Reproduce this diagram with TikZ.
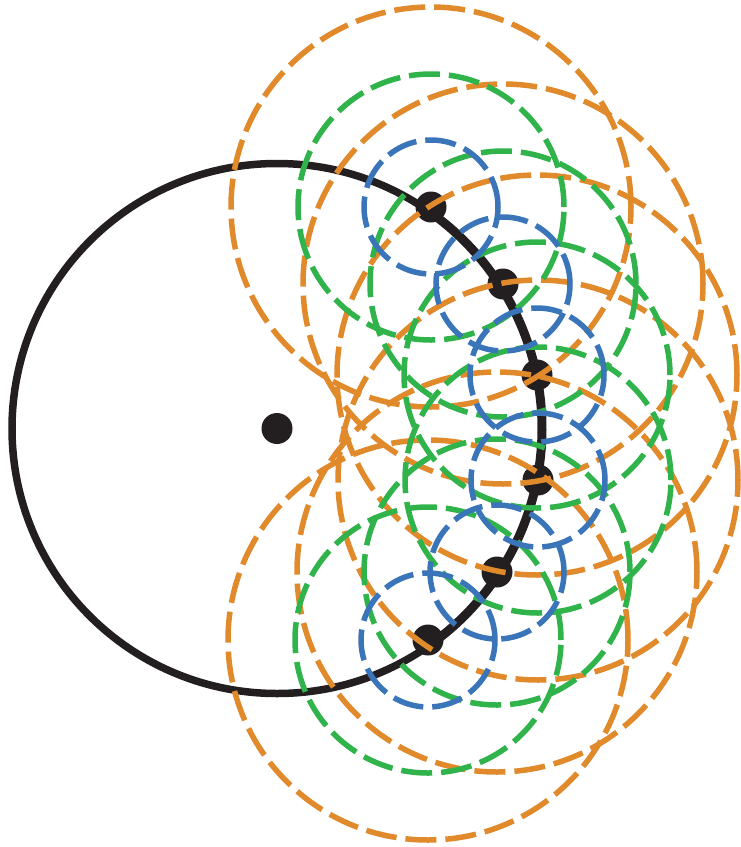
\documentclass[tikz,border=0pt]{standalone}
\usetikzlibrary{positioning}
\definecolor{rcInk}{HTML}{231F20}
\definecolor{rcOrange}{HTML}{E08A2B}
\definecolor{rcGreen}{HTML}{30B34B}
\definecolor{rcBlue}{HTML}{3A74B9}
\tikzset{
 orbit/.style={draw=rcInk,line width=7.5pt},
 orbitArc/.style={draw=rcInk,line width=9pt},
 dot/.style={circle,fill=rcInk,inner sep=0pt,minimum size=31pt},
 ring/.style={line width=5.5pt,dash pattern=on 31pt off 9pt},
 ringFar/.style={ring,draw=rcOrange},
 ringMid/.style={ring,draw=rcGreen},
 ringNear/.style={ring,draw=rcBlue}
}

\begin{document}
\begin{tikzpicture}[x=1pt,y=1pt]
 \useasboundingbox (0,0) rectangle (740,-847);
 % centre and the sample points on the orbit
 \node[dot] (c) at (277,-428.5) {};
 \draw[orbit] (c.center) circle (265);
 \draw[orbitArc] (c.center) ++(55:265) arc[start angle=55,end angle=-55,radius=265];
 \node[dot] (p1) at (431,-207) {};
 \node[dot] (p2) at (503,-284) {};
 \node[dot] (p3) at (537,-375) {};
 \node[dot] (p4) at (538,-480) {};
 \node[dot] (p5) at (497,-572) {};
 \node[dot] (p6) at (428,-640) {};
 % outer rings
 \draw[ringFar] (p1.center) circle (200);
 \draw[ringFar] (p2.center) circle (200);
 \draw[ringFar] (p3.center) circle (200);
 \draw[ringFar] (p4.center) circle (200);
 \draw[ringFar] (p5.center) circle (200);
 \draw[ringFar] (p6.center) circle (200);
 % middle rings
 \draw[ringMid] (p1.center) circle (133);
 \draw[ringMid] (p2.center) circle (133);
 \draw[ringMid] (p3.center) circle (133);
 \draw[ringMid] (p4.center) circle (133);
 \draw[ringMid] (p5.center) circle (133);
 \draw[ringMid] (p6.center) circle (133);
 % inner rings
 \draw[ringNear] (p1.center) circle (67);
 \draw[ringNear] (p2.center) circle (67);
 \draw[ringNear] (p3.center) circle (67);
 \draw[ringNear] (p4.center) circle (67);
 \draw[ringNear] (p5.center) circle (67);
 \draw[ringNear] (p6.center) circle (67);
\end{tikzpicture}
\end{document}
